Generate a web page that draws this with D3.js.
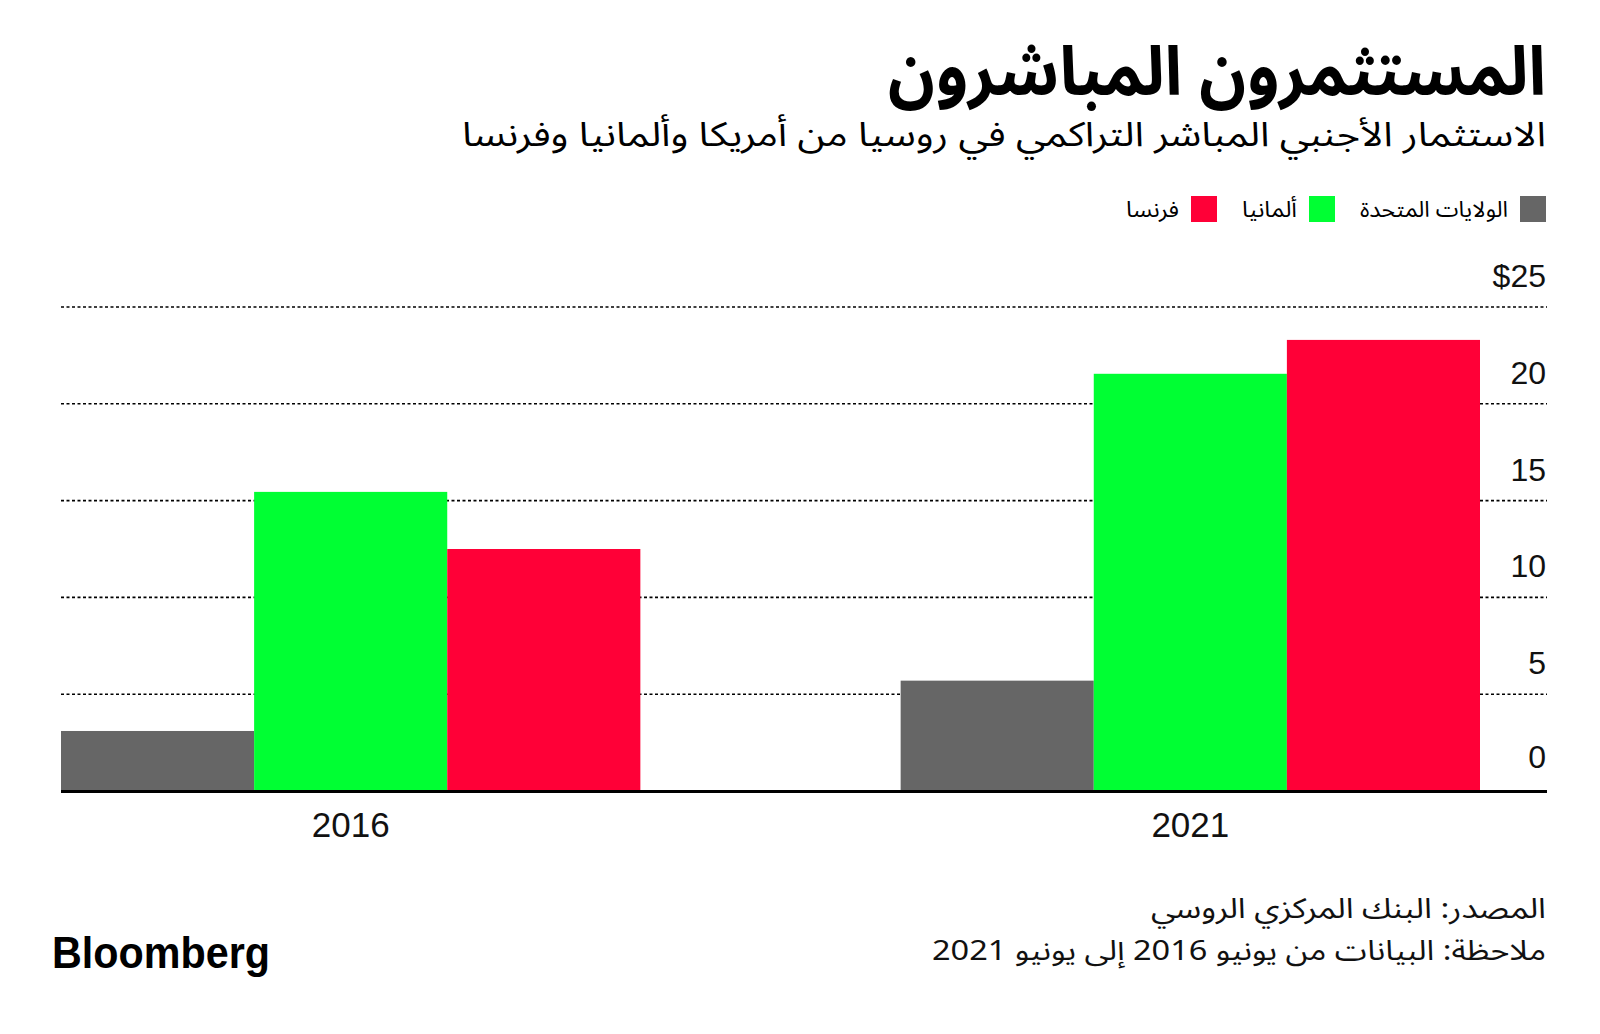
<!DOCTYPE html>
<html lang="ar">
<head>
<meta charset="utf-8">
<script src="https://cdn.jsdelivr.net/npm/d3@7"></script>
<style>
  html, body { margin: 0; padding: 0; background: #ffffff; }
  svg { display: block; }
  .ar { font-family: "Noto Sans Arabic", "DejaVu Sans", sans-serif; }
  .lat { font-family: "Liberation Sans", Arial, Helvetica, sans-serif; }
</style>
</head>
<body>
<svg id="chart" width="1600" height="1034"></svg>
<script>
// ---- Data ----
const years = ["2016", "2021"];
const seriesNames = ["الولايات المتحدة", "ألمانيا", "فرنسا"];
const usValues = [3.1, 5.7];
const germanyValues = [15.45, 21.55];
const franceValues = [12.5, 23.3];
const seriesColors = ["#666666", "#00ff33", "#ff0037"];
const yTicks = [0, 5, 10, 15, 20, 25];
const yTickLabels = ["0", "5", "10", "15", "20", "$25"];
const titleText = "المستثمرون المباشرون";
const subtitleText = "الاستثمار الأجنبي المباشر التراكمي في روسيا من أمريكا وألمانيا وفرنسا";
const sourceText = "المصدر: البنك المركزي الروسي";
const noteText = "ملاحظة: البيانات من يونيو 2016 إلى يونيو 2021";

const seriesValues = [usValues, germanyValues, franceValues];
const rows = years.map((y, i) => ({
  year: y,
  vals: seriesNames.map((s, j) => ({ key: s, value: seriesValues[j][i], color: seriesColors[j] }))
}));

// ---- Layout ----
const svg = d3.select("#chart");
const left = 61, right = 1547, groupRight = 1480;
const yScale = d3.scaleLinear().domain([0, 25]).range([791, 307]);
const x0 = d3.scaleBand().domain(years).range([left, groupRight]).paddingInner(0.31).paddingOuter(0);
const x1 = d3.scaleBand().domain(seriesNames).range([0, x0.bandwidth()]).padding(0);

svg.append("rect").attr("width", 1600).attr("height", 1034).attr("fill", "#fff");

// Right-anchored RTL text helper
function arText(x, y, size, txt, len, weight) {
  const t = svg.append("text").attr("class", "ar")
    .attr("x", x).attr("y", y)
    .attr("direction", "rtl").attr("text-anchor", "start")
    .attr("font-size", size).attr("fill", "#000")
    .attr("font-weight", weight || "normal")
    .text(txt);
  if (len) t.attr("textLength", len).attr("lengthAdjust", "spacingAndGlyphs");
  return t;
}

// Title & subtitle
arText(1546, 95, 68, titleText, 658, "bold");
arText(1546, 146, 34, subtitleText, 1084);

// Legend (flows right to left)
const legendWidths = [148, 55, 53];
let lx = 1546;
seriesNames.forEach((name, i) => {
  svg.append("rect").attr("x", lx - 26).attr("y", 196).attr("width", 26).attr("height", 26)
    .attr("fill", seriesColors[i]);
  const tx = lx - 26 - 12;
  arText(tx, 217, 22, name, legendWidths[i]);
  lx = tx - legendWidths[i] - 25;
});

// Gridlines
svg.append("g").selectAll("line").data(yTicks.filter(d => d > 0)).join("line")
  .attr("x1", left).attr("x2", right)
  .attr("y1", d => yScale(d)).attr("y2", d => yScale(d))
  .attr("stroke", "#000").attr("stroke-width", 1.6).attr("stroke-dasharray", "3,2.5");

// Y tick labels
svg.append("g").selectAll("text").data(yTicks).join("text").attr("class", "lat")
  .attr("x", 1546).attr("y", d => yScale(d) - (d === 0 ? 23 : 20)).attr("text-anchor", "end")
  .attr("font-size", 32).attr("fill", "#111")
  .text((d, i) => yTickLabels[i]);

// Bars
const groups = svg.append("g").selectAll("g").data(rows).join("g")
  .attr("transform", d => `translate(${x0(d.year)},0)`);
groups.selectAll("rect").data(d => d.vals).join("rect")
  .attr("x", d => x1(d.key)).attr("width", x1.bandwidth())
  .attr("y", d => yScale(d.value)).attr("height", d => yScale(0) - yScale(d.value))
  .attr("fill", d => d.color);

// Baseline
svg.append("line").attr("x1", left).attr("x2", right)
  .attr("y1", yScale(0) + 0.5).attr("y2", yScale(0) + 0.5)
  .attr("stroke", "#000").attr("stroke-width", 3);

// X axis labels
svg.append("g").selectAll("text").data(years).join("text").attr("class", "lat")
  .attr("x", d => x0(d) + x0.bandwidth() / 2).attr("y", 837).attr("text-anchor", "middle")
  .attr("font-size", 35).attr("fill", "#111")
  .text(d => d);

// Footer
arText(1546, 918, 28, sourceText, 395).attr("fill", "#111");
arText(1546, 960, 28, noteText, 614).attr("fill", "#111");

svg.append("text").attr("class", "lat")
  .attr("x", 52).attr("y", 968)
  .attr("font-size", 44).attr("font-weight", "bold").attr("fill", "#000")
  .attr("textLength", 218).attr("lengthAdjust", "spacingAndGlyphs")
  .text("Bloomberg");
</script>
</body>
</html>
